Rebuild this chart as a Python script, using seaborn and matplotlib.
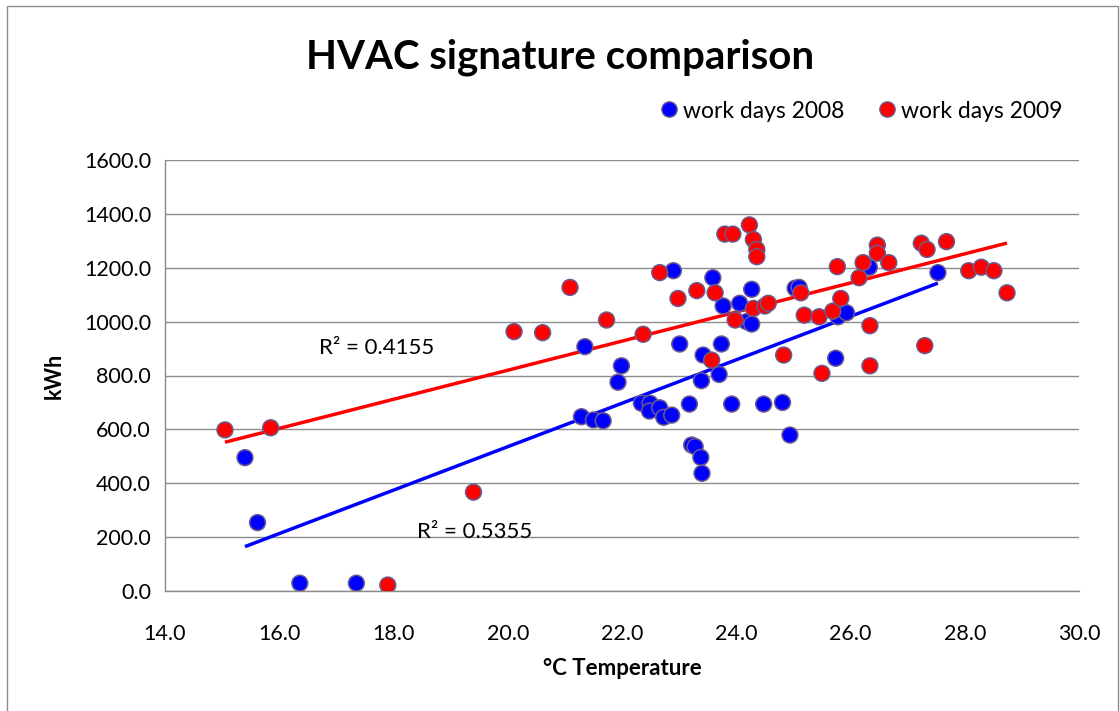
import numpy as np
import pandas as pd
import matplotlib
matplotlib.use("Agg")
import matplotlib.pyplot as plt
import seaborn as sns
from matplotlib.patches import Rectangle

# Daily outdoor temperature (°C) and HVAC consumption (kWh) on work days
temp_2008 = [15.40, 15.62, 16.36, 17.35, 21.29, 21.35, 21.50, 21.67, 21.93, 21.99,
             22.34, 22.49, 22.48, 22.66, 22.73, 22.87, 22.90, 23.01, 23.18, 23.22,
             23.28, 23.38, 23.40, 23.39, 23.42, 23.59, 23.70, 23.74, 23.77, 23.92,
             24.06, 24.18, 24.27, 24.27, 24.48, 24.81, 24.94, 25.03, 25.10, 25.74,
             25.78, 25.93, 26.33, 27.53]
kwh_2008 = [495, 254, 29, 29, 647, 907, 635, 632, 775, 836,
            697, 697, 668, 680, 645, 653, 1189, 917, 694, 542,
            536, 496, 437, 781, 876, 1163, 804, 917, 1058, 694,
            1068, 1000, 991, 1120, 694, 700, 579, 1124, 1127, 864,
            1018, 1033, 1202, 1182]

temp_2009 = [15.05, 15.85, 17.90, 19.40, 20.11, 20.61, 21.09, 21.73, 22.37, 22.66,
             22.98, 23.31, 23.57, 23.63, 23.80, 23.94, 23.98, 24.23, 24.30, 24.36,
             24.36, 24.30, 24.50, 24.56, 24.83, 25.13, 25.19, 25.45, 25.50, 25.69,
             25.77, 25.83, 26.15, 26.22, 26.34, 26.34, 26.47, 26.47, 26.67, 27.24,
             27.34, 27.30, 27.68, 28.07, 28.29, 28.51, 28.74]
kwh_2009 = [598, 606, 22, 367, 963, 959, 1127, 1006, 953, 1182,
            1086, 1115, 857, 1107, 1325, 1325, 1006, 1359, 1305, 1268,
            1241, 1049, 1058, 1068, 876, 1107, 1024, 1018, 808, 1039,
            1204, 1086, 1163, 1219, 985, 836, 1284, 1254, 1219, 1291,
            1268, 911, 1297, 1189, 1202, 1189, 1107]

series_names = ["work days 2008", "work days 2009"]
series_colors = ["#0000FF", "#FF0000"]
r2_texts = ["R² = 0.5355", "R² = 0.4155"]
x_ticks = [14, 16, 18, 20, 22, 24, 26, 28, 30]
y_ticks = [0, 200, 400, 600, 800, 1000, 1200, 1400, 1600]

df = pd.concat([
    pd.DataFrame({"temp": temp_2008, "kwh": kwh_2008, "series": series_names[0]}),
    pd.DataFrame({"temp": temp_2009, "kwh": kwh_2009, "series": series_names[1]}),
], ignore_index=True)

sns.set_style("white")
plt.rcParams["font.family"] = ["Lato", "DejaVu Sans"]
plt.rcParams["text.color"] = "black"
plt.rcParams["axes.labelcolor"] = "black"

W, H = 1120, 711
fig = plt.figure(figsize=(W / 100, H / 100), dpi=100)
ax = fig.add_axes([165 / W, 1 - 591 / H, (1079 - 165) / W, (591 - 160) / H])

grid_gray = "#8C8C8C"
edge_col = "#6A5A8E"

# Linear trend lines (least squares) for each year
for name, color in zip(series_names, series_colors):
    sub = df[df["series"] == name]
    sns.regplot(data=sub, x="temp", y="kwh", ax=ax, scatter=False, ci=None,
                truncate=True, color=color,
                line_kws={"linewidth": 2.5, "zorder": 2, "solid_capstyle": "butt"})

# Daily points
sns.scatterplot(data=df, x="temp", y="kwh", hue="series",
                palette=dict(zip(series_names, series_colors)),
                s=130, edgecolor=edge_col, linewidth=1.1, ax=ax, zorder=3,
                legend=False)

ax.set_xlim(14, 30)
ax.set_ylim(0, 1600)
ax.set_xticks(x_ticks)
ax.set_yticks(y_ticks)
ax.set_xticklabels([f"{v:.1f}" for v in x_ticks])
ax.set_yticklabels([f"{v:.1f}" for v in y_ticks])
ax.tick_params(axis="both", labelsize=15.5, colors=grid_gray, labelcolor="black",
               direction="out", length=5, width=1, pad=5)
ax.tick_params(axis="x", pad=19)
ax.yaxis.grid(True, color=grid_gray, linewidth=1)
ax.xaxis.grid(False)
ax.set_axisbelow(True)
for side in ("top", "right"):
    ax.spines[side].set_visible(False)
for side in ("left", "bottom"):
    ax.spines[side].set_color(grid_gray)
    ax.spines[side].set_linewidth(1)

ax.set_xlabel("°C Temperature", fontsize=16, fontweight="bold", labelpad=10)
ax.set_ylabel("kWh", fontsize=15.5, fontweight="bold", labelpad=14)

# R² annotations for the trend lines
ax.text(18.42, 219, r2_texts[0], fontsize=16, va="center", ha="left")
ax.text(16.70, 902, r2_texts[1], fontsize=16, va="center", ha="left")

fig.text(0.5, 1 - 57 / H, "HVAC signature comparison", fontsize=29,
         fontweight="bold", ha="center", va="center")

# Legend
handles = [plt.Line2D([], [], marker="o", linestyle="", markersize=11,
                      markerfacecolor=c, markeredgecolor=edge_col,
                      markeredgewidth=1.0) for c in series_colors]
fig.legend(handles, series_names, loc="center", ncol=2, frameon=False,
           bbox_to_anchor=(860 / W, 1 - 111 / H), fontsize=16.5,
           handletextpad=0.1, columnspacing=1.4, handlelength=1.0)

# Chart area border
fig.add_artist(Rectangle((6.5 / W, -0.05), (1118 - 6.5) / W, 1.05 - 6.5 / H,
                         transform=fig.transFigure, fill=False,
                         edgecolor="#8C8C8C", linewidth=1))

fig.savefig("out.png", dpi=100)
